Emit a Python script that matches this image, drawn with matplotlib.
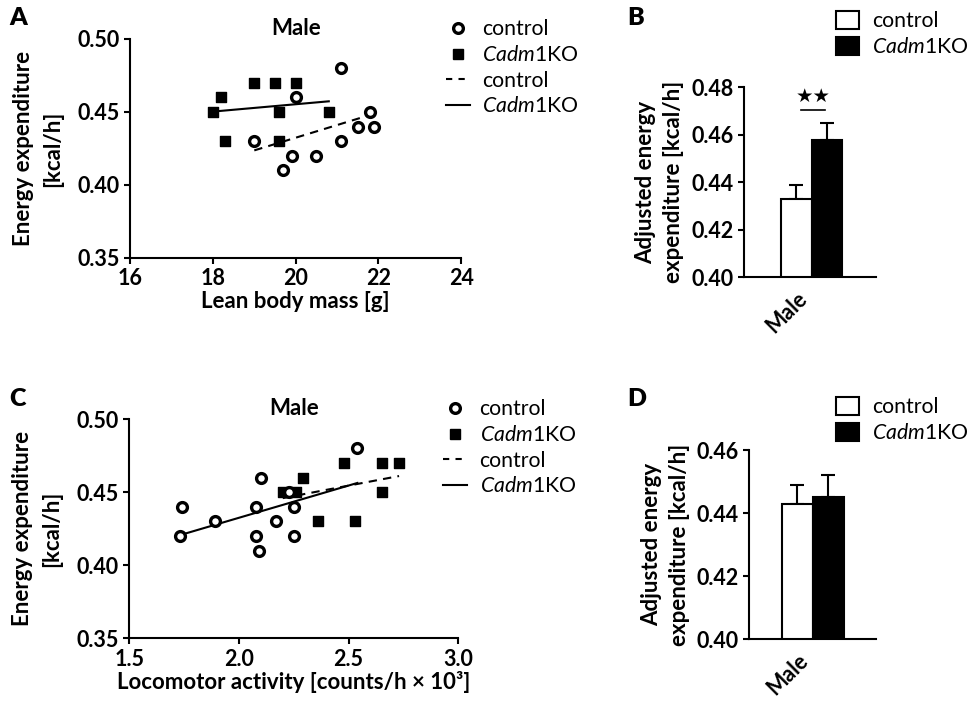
import numpy as np
import matplotlib
matplotlib.use("Agg")
import matplotlib.pyplot as plt
from matplotlib.lines import Line2D
from matplotlib.patches import Patch

plt.rcParams['font.family'] = ['Lato', 'DejaVu Sans']
plt.rcParams['mathtext.fontset'] = 'custom'
plt.rcParams['mathtext.it'] = 'Lato:italic'
plt.rcParams['mathtext.rm'] = 'Lato'

# panel A: energy expenditure vs lean body mass
a_ctrl_x = [21.1, 20.0, 21.8, 21.5, 21.9, 21.1, 19.0, 19.9, 20.5, 19.7]
a_ctrl_y = [0.48, 0.46, 0.45, 0.44, 0.44, 0.43, 0.43, 0.42, 0.42, 0.41]
a_ko_x = [18.0, 18.2, 18.3, 19.0, 19.5, 20.0, 19.6, 19.6, 20.8]
a_ko_y = [0.45, 0.46, 0.43, 0.47, 0.47, 0.47, 0.45, 0.43, 0.45]

# panel C: energy expenditure vs locomotor activity
c_ctrl_x = [1.74, 1.73, 1.89, 2.10, 2.08, 2.17, 2.08, 2.09, 2.54, 2.23, 2.25, 2.25]
c_ctrl_y = [0.44, 0.42, 0.43, 0.46, 0.44, 0.43, 0.42, 0.41, 0.48, 0.45, 0.44, 0.42]
c_ko_x = [2.48, 2.65, 2.73, 2.29, 2.20, 2.26, 2.65, 2.36, 2.53]
c_ko_y = [0.47, 0.47, 0.47, 0.46, 0.45, 0.45, 0.45, 0.43, 0.43]

# panels B and D: adjusted energy expenditure (mean, SEM)
groups = ['control', 'Cadm1KO']
b_mean = [0.433, 0.458]
b_sem = [0.006, 0.007]
d_mean = [0.443, 0.445]
d_sem = [0.006, 0.007]

ko_label = r'$\mathit{Cadm1}$KO'
FS = 16       # axis labels
TFS = 15.5    # tick labels
LFS = 15.3    # legends

fig = plt.figure(figsize=(9.71, 7.02), dpi=100)


def style(ax):
    for s in ['top', 'right']:
        ax.spines[s].set_visible(False)
    for s in ['left', 'bottom']:
        ax.spines[s].set_linewidth(1.5)
    ax.tick_params(direction='out', length=4, width=1.5, labelsize=TFS)
    for lab in ax.get_xticklabels() + ax.get_yticklabels():
        lab.set_fontweight('bold')


def fit(ax, x, y, ls):
    k, b = np.polyfit(x, y, 1)
    xx = np.array([min(x), max(x)])
    ax.plot(xx, k * xx + b, color='black', ls=ls, lw=1.5, dashes=(4, 3) if ls == '--' else (None, None))


def scatter_panel(rect, cx, cy, kx, ky, xlim, xticks, xfmt, xlabel, ctrl_ls, ko_ls):
    ax = fig.add_axes(rect)
    ax.scatter(kx, ky, marker='s', s=50, color='black', zorder=3)
    ax.scatter(cx, cy, marker='o', s=50, facecolor='white', edgecolor='black', linewidth=2.4, zorder=4)
    fit(ax, cx, cy, ctrl_ls)
    fit(ax, kx, ky, ko_ls)
    ax.set_xlim(*xlim)
    ax.set_ylim(0.35, 0.50)
    ax.set_xticks(xticks)
    ax.set_xticklabels([xfmt % t for t in xticks])
    ax.set_yticks([0.35, 0.40, 0.45, 0.50])
    ax.set_yticklabels(['0.35', '0.40', '0.45', '0.50'])
    ax.set_xlabel(xlabel, fontsize=FS, fontweight='bold', labelpad=1)
    ax.set_ylabel('Energy expenditure\n[kcal/h]', fontsize=FS, fontweight='bold', labelpad=10,
                  linespacing=1.5)
    ax.set_title('Male', fontsize=FS, fontweight='bold', pad=1)
    style(ax)
    handles = [
        Line2D([], [], ls='none', marker='o', ms=7, mfc='white', mec='black', mew=2.4),
        Line2D([], [], ls='none', marker='s', ms=7, color='black'),
        Line2D([], [], ls='--', color='black', lw=1.5, dashes=(3, 3)),
        Line2D([], [], ls='-', color='black', lw=1.5),
    ]
    ax.legend(handles, ['control', ko_label, 'control', ko_label], loc='upper left',
              bbox_to_anchor=(0.955, 1.09), frameon=False, fontsize=LFS,
              handlelength=1.1, labelspacing=0.27, handletextpad=0.6,
              borderpad=0, borderaxespad=0)
    return ax


def bar_panel(rect, mean, sem, ylim, yticks, xlim, legend_anchor, sig=False):
    ax = fig.add_axes(rect)
    x = np.arange(len(groups))
    ax.bar(x, mean, width=1.0, color=['white', 'black'], edgecolor='black', linewidth=1.5, zorder=2)
    ax.errorbar(x, mean, yerr=[[0, 0], sem], fmt='none', ecolor='black', elinewidth=1.5,
                capsize=5, capthick=1.5, zorder=1)
    ax.set_xlim(*xlim)
    ax.set_ylim(*ylim)
    ax.set_yticks(yticks)
    ax.set_yticklabels(['%.2f' % t for t in yticks])
    ax.set_xticks([0.0])
    ax.set_xticklabels(['Male'], rotation=45, ha='right', rotation_mode='anchor')
    ax.set_ylabel('Adjusted energy\nexpenditure [kcal/h]', fontsize=FS, fontweight='bold', labelpad=5,
                  linespacing=1.4)
    style(ax)
    ax.tick_params(axis='x', length=0, pad=8)
    if sig:
        ax.plot([0.15, 0.95], [0.4703, 0.4703], color='black', lw=1.2)
        ax.text(0.55, 0.4722, '\u2605\u2605', ha='center', va='bottom', fontsize=14,
                family=['DejaVu Sans'])
    handles = [Patch(facecolor='white', edgecolor='black', linewidth=1.5),
               Patch(facecolor='black', edgecolor='black', linewidth=1.5)]
    fig.legend(handles, ['control', ko_label], loc='upper left', bbox_to_anchor=legend_anchor,
               frameon=False, fontsize=LFS, handlelength=1.1, handleheight=0.95,
               labelspacing=0.27, handletextpad=0.6, borderpad=0, borderaxespad=0)
    return ax


scatter_panel([0.134, 0.6325, 0.341, 0.312], a_ctrl_x, a_ctrl_y, a_ko_x, a_ko_y,
              (16, 24), [16, 18, 20, 22, 24], '%d', 'Lean body mass [g]', '--', '-')
scatter_panel([0.133, 0.0907, 0.339, 0.3124], c_ctrl_x, c_ctrl_y, c_ko_x, c_ko_y,
              (1.5, 3.0), [1.5, 2.0, 2.5, 3.0], '%.1f',
              'Locomotor activity [counts/h \u00d7 10\u00b3]', '-', '--')
bar_panel([0.7662, 0.605, 0.136, 0.2707], b_mean, b_sem, (0.40, 0.48),
          [0.40, 0.42, 0.44, 0.46, 0.48], (-1.7, 2.6), (0.861, 0.985), sig=True)
bar_panel([0.7717, 0.0897, 0.1305, 0.2692], d_mean, d_sem, (0.40, 0.46),
          [0.40, 0.42, 0.44, 0.46], (-1.55, 2.55), (0.861, 0.435))

for letter, (x, y) in zip('ABCD', [(0.01, 0.99), (0.646, 0.99), (0.01, 0.448), (0.646, 0.448)]):
    fig.text(x, y, letter, fontsize=18, fontweight='heavy', ha='left', va='top')

fig.savefig('out.png', dpi=100)
